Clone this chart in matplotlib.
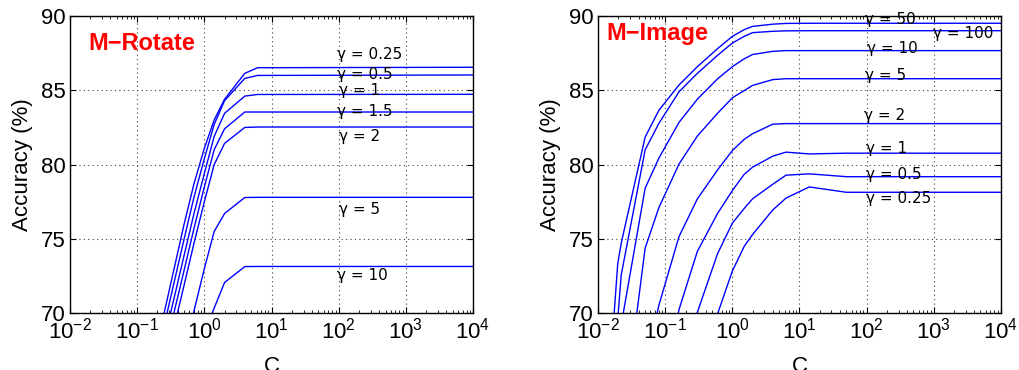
"""Accuracy vs C for several gamma values, M-Rotate and M-Image side by side."""
import matplotlib

matplotlib.use("Agg")
import matplotlib.pyplot as plt

plt.rcParams["font.family"] = ["Liberation Sans", "DejaVu Sans"]
plt.rcParams["mathtext.default"] = "regular"

# ---------------------------------------------------------------------------
# Data
# ---------------------------------------------------------------------------
# M-Rotate
rot_c = [0.125, 0.25, 0.5, 0.7, 1, 1.4, 2, 4, 6.2, 1e4]
rot_g025 = [60, 69.95, 76.0, 78.7, 81.1, 83.0, 84.4, 86.14, 86.52, 86.55]
rot_g05 = [59, 69.1, 75.0, 77.8, 80.4, 82.7, 84.3, 85.8, 86.0, 86.03]
rot_g1 = [58, 68.1, 73.9, 76.7, 79.4, 81.9, 83.45, 84.61, 84.72, 84.73]
rot_g15 = [57, 67.2, 72.9, 75.7, 78.5, 81.0, 82.41, 83.54, 83.54, 83.54]
rot_g2 = [56, 66.2, 71.9, 74.7, 77.5, 80.0, 81.43, 82.5, 82.53, 82.53]
rot_g5 = [55, 60, 67.4, 70.15, 73.0, 75.5, 76.71, 77.79, 77.8, 77.8]
rot_g10 = [55, 58, 62, 65, 68.6, 70.35, 72.07, 73.14, 73.15, 73.15]
rot_series = [rot_g025, rot_g05, rot_g1, rot_g15, rot_g2, rot_g5, rot_g10]
rot_labels = ["γ = 0.25", "γ = 0.5", "γ = 1", "γ = 1.5", "γ = 2", "γ = 5", "γ = 10"]
rot_label_c = [95, 95, 100, 95, 100, 102, 95]
rot_label_acc = [87.38, 86.03, 85.02, 83.6, 81.88, 77.0, 72.52]

# M-Image
img_c = [0.01, 0.0195, 0.022, 0.05, 0.08, 0.16, 0.3, 0.6, 1, 1.5, 2, 4, 6.3, 14, 50, 1e4]
img_g50 = [55, 73.33, 74.72, 81.85, 83.65, 85.36, 86.59, 87.8, 88.63, 89.08, 89.3, 89.45, 89.5, 89.51, 89.51, 89.51]
img_g100 = [53, 69.57, 72.58, 80.99, 82.77, 84.9, 86.14, 87.35, 88.18, 88.63, 88.88, 88.97, 89.0, 89.01, 89.01, 89.01]
img_g10 = [62, 67.86, 69.22, 78.41, 80.43, 82.84, 84.4, 85.77, 86.59, 87.12, 87.41, 87.62, 87.67, 87.67, 87.67, 87.67]
img_g5 = [55, 60, 61.8, 74.38, 77.1, 80.04, 81.92, 83.45, 84.5, 84.98, 85.33, 85.72, 85.78, 85.78, 85.78, 85.78]
img_g2 = [55, 59, 60, 66.3, 70.53, 75.16, 77.69, 79.64, 80.95, 81.7, 82.08, 82.72, 82.76, 82.76, 82.76, 82.76]
img_g1 = [55, 56, 57, 60, 63.7, 70.25, 74.16, 76.71, 78.26, 79.35, 79.83, 80.57, 80.84, 80.72, 80.77, 80.77]
img_g05 = [55, 55.5, 56, 58, 62, 66.1, 70.06, 74.0, 76.07, 77.05, 77.7, 78.68, 79.29, 79.38, 79.19, 79.19]
img_g025 = [55, 55.5, 56, 57, 58, 62, 65.7, 69.95, 72.85, 74.5, 75.3, 76.95, 77.75, 78.5, 78.14, 78.14]
img_series = [img_g50, img_g100, img_g10, img_g5, img_g2, img_g1, img_g05, img_g025]
img_labels = ["γ = 50", "γ = 100", "γ = 10", "γ = 5", "γ = 2", "γ = 1", "γ = 0.5", "γ = 0.25"]
img_label_c = [95, 990, 100, 95, 93, 97, 97, 97]
img_label_acc = [89.78, 88.84, 87.83, 85.97, 83.3, 81.1, 79.31, 77.7]


def draw_panel(ax, c, series, labels, label_c, label_acc, title, title_xy):
    for acc in series:
        ax.plot(c, acc, color="#0000ff", linewidth=1.0)
    # DejaVu has a real-looking gamma (Liberation's looks like a "y")
    for lab, lc, la in zip(labels, label_c, label_acc):
        ax.text(lc, la, lab, fontsize=11, family=["DejaVu Sans"],
                ha="left", va="center")
    ax.text(title_xy[0], title_xy[1], title, transform=ax.transAxes,
            color="#ff0000", fontsize=17, fontweight="bold", ha="left", va="center")

    ax.set_xscale("log")
    ax.set_xlim(1e-2, 1e4)
    ax.set_ylim(70, 90)
    ax.set_yticks([70, 75, 80, 85, 90])
    ax.grid(True, which="major", linestyle=(0, (1, 3)), color="0.25", linewidth=0.8)
    ax.tick_params(which="both", direction="in", top=True, right=True, labelsize=16, pad=3)
    ax.tick_params(which="major", length=4)
    ax.tick_params(which="minor", length=2.5)
    for sp in ax.spines.values():
        sp.set_linewidth(1.0)
    ax.set_xlabel("C", fontsize=16)
    ax.set_ylabel("Accuracy (%)", fontsize=16)
    ax.xaxis.set_label_coords(0.5, -0.145)
    ax.yaxis.set_label_coords(-0.092, 0.5)


fig = plt.figure(figsize=(10.19, 3.70), dpi=100)
ax1 = fig.add_axes([0.0687, 0.1533, 0.3955, 0.8035])
ax2 = fig.add_axes([0.5871, 0.1533, 0.3949, 0.8035])

draw_panel(ax1, rot_c, rot_series, rot_labels, rot_label_c, rot_label_acc,
           "M−Rotate", (0.045, 0.909))
draw_panel(ax2, img_c, img_series, img_labels, img_label_c, img_label_acc,
           "M−Image", (0.019, 0.942))

fig.savefig("out.png", dpi=100)
